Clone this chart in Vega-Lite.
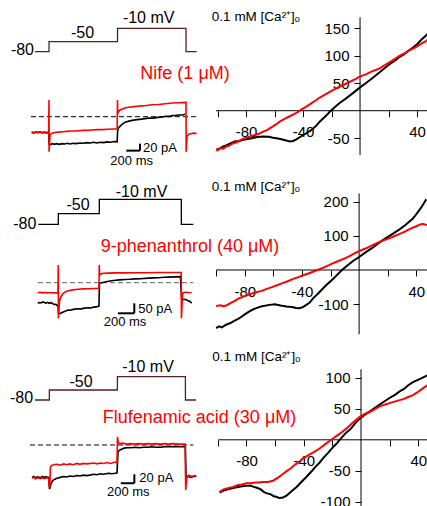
{
"$schema": "https://vega.github.io/schema/vega-lite/v6.json",
"padding": 0,
"background": "white",
"bounds": "flush",
"align": "each",
"spacing": 0,
"columns": 2,
"config": {
  "view": {"stroke": null},
  "axis": {"domain": false, "grid": false, "labelFont": "Liberation Sans", "labelFontSize": 15, "labelColor": "black", "tickColor": "black", "tickSize": 6, "tickWidth": 1, "labelFlush": false, "labelOverlap": false, "labelBound": false},
  "text": {"font": "Liberation Sans"}
},
"datasets": {
  "p1": [{"t":-204,"v":-80},{"t":0,"v":-80},{"t":1,"v":-50},{"t":1000,"v":-50},{"t":1001,"v":-10},{"t":2000,"v":-10},{"t":2001,"v":-80},{"t":2156,"v":-80}],
  "p2": [{"t":-244,"v":-80},{"t":0,"v":-80},{"t":1,"v":-50},{"t":500,"v":-50},{"t":501,"v":-10},{"t":1500,"v":-10},{"t":1501,"v":-80},{"t":1647,"v":-80}],
  "p3": [{"t":-210,"v":-80},{"t":0,"v":-80},{"t":1,"v":-50},{"t":1000,"v":-50},{"t":1001,"v":-10},{"t":2000,"v":-10},{"t":2001,"v":-80},{"t":2157,"v":-80}],
  "c1c": [{"t":-253,"i":-44},{"t":-220,"i":-46},{"t":-190,"i":-43},{"t":-160,"i":-45},{"t":-130,"i":-43},{"t":-100,"i":-46},{"t":-70,"i":-44},{"t":-40,"i":-45},{"t":-5,"i":-44},{"t":2,"i":-78},{"t":20,"i":-80},{"t":50,"i":-77},{"t":80,"i":-79},{"t":110,"i":-77},{"t":150,"i":-79},{"t":190,"i":-77},{"t":230,"i":-78},{"t":270,"i":-76},{"t":310,"i":-78},{"t":350,"i":-76},{"t":400,"i":-77},{"t":450,"i":-75},{"t":500,"i":-76},{"t":550,"i":-74},{"t":600,"i":-75},{"t":650,"i":-73},{"t":700,"i":-75},{"t":750,"i":-73},{"t":800,"i":-74},{"t":850,"i":-72},{"t":900,"i":-73},{"t":950,"i":-71},{"t":995,"i":-72},{"t":1002,"i":-40},{"t":1015,"i":-32},{"t":1040,"i":-27},{"t":1070,"i":-21},{"t":1110,"i":-16},{"t":1180,"i":-12},{"t":1256,"i":-9},{"t":1350,"i":-7},{"t":1450,"i":-4},{"t":1520,"i":-4},{"t":1591,"i":-2},{"t":1650,"i":-1},{"t":1700,"i":1},{"t":1760,"i":1},{"t":1800,"i":3},{"t":1860,"i":4},{"t":1900,"i":5},{"t":1950,"i":5},{"t":1986,"i":7}],
  "c1d": [{"t":-253,"i":-45},{"t":-220,"i":-47},{"t":-190,"i":-44},{"t":-160,"i":-46},{"t":-130,"i":-44},{"t":-100,"i":-46},{"t":-70,"i":-45},{"t":-40,"i":-47},{"t":-5,"i":-45},{"t":0,"i":48},{"t":2,"i":-100},{"t":15,"i":-52},{"t":40,"i":-48},{"t":80,"i":-45},{"t":136,"i":-44},{"t":200,"i":-43},{"t":260,"i":-42},{"t":320,"i":-41},{"t":380,"i":-41},{"t":440,"i":-40},{"t":500,"i":-39},{"t":560,"i":-39},{"t":623,"i":-38},{"t":700,"i":-37},{"t":780,"i":-37},{"t":860,"i":-36},{"t":930,"i":-35},{"t":995,"i":-35},{"t":1000,"i":48},{"t":1003,"i":8},{"t":1015,"i":15},{"t":1037,"i":19},{"t":1070,"i":22},{"t":1110,"i":25},{"t":1160,"i":27},{"t":1220,"i":28},{"t":1290,"i":30},{"t":1353,"i":31},{"t":1420,"i":32},{"t":1500,"i":34},{"t":1596,"i":35},{"t":1700,"i":37},{"t":1800,"i":39},{"t":1900,"i":40},{"t":1995,"i":41},{"t":2000,"i":41},{"t":2002,"i":-100},{"t":2015,"i":-56},{"t":2040,"i":-50},{"t":2080,"i":-48},{"t":2120,"i":-47},{"t":2156,"i":-48}],
  "c2c": [{"t":-251,"i":-103},{"t":-230,"i":-99},{"t":-210,"i":-101},{"t":-190,"i":-96},{"t":-170,"i":-99},{"t":-150,"i":-102},{"t":-130,"i":-98},{"t":-110,"i":-103},{"t":-90,"i":-100},{"t":-70,"i":-104},{"t":-50,"i":-109},{"t":-30,"i":-108},{"t":-10,"i":-115},{"t":-3,"i":-116},{"t":2,"i":-153},{"t":20,"i":-155},{"t":40,"i":-150},{"t":61,"i":-146},{"t":90,"i":-142},{"t":122,"i":-137},{"t":160,"i":-136},{"t":200,"i":-132},{"t":244,"i":-130},{"t":280,"i":-131},{"t":320,"i":-127},{"t":366,"i":-125},{"t":400,"i":-126},{"t":430,"i":-122},{"t":460,"i":-121},{"t":496,"i":-117},{"t":502,"i":-3},{"t":529,"i":0},{"t":580,"i":5},{"t":651,"i":10},{"t":700,"i":12},{"t":750,"i":14},{"t":814,"i":16},{"t":870,"i":17},{"t":936,"i":19},{"t":1000,"i":20},{"t":1100,"i":23},{"t":1160,"i":24},{"t":1220,"i":25},{"t":1290,"i":27},{"t":1350,"i":28},{"t":1420,"i":29},{"t":1490,"i":30},{"t":1505,"i":-86},{"t":1525,"i":-83},{"t":1550,"i":-84},{"t":1586,"i":-90},{"t":1610,"i":-95},{"t":1627,"i":-103}],
  "c2d": [{"t":-251,"i":-50},{"t":-220,"i":-48},{"t":-190,"i":-51},{"t":-160,"i":-49},{"t":-130,"i":-51},{"t":-100,"i":-49},{"t":-70,"i":-50},{"t":-40,"i":-51},{"t":-5,"i":-50},{"t":0,"i":88},{"t":2,"i":-178},{"t":15,"i":-90},{"t":33,"i":-70},{"t":61,"i":-53},{"t":90,"i":-45},{"t":122,"i":-40},{"t":180,"i":-36},{"t":244,"i":-33},{"t":300,"i":-31},{"t":366,"i":-30},{"t":430,"i":-29},{"t":496,"i":-28},{"t":500,"i":88},{"t":503,"i":38},{"t":529,"i":46},{"t":600,"i":48},{"t":700,"i":49},{"t":814,"i":49},{"t":936,"i":50},{"t":1100,"i":50},{"t":1220,"i":51},{"t":1350,"i":51},{"t":1496,"i":51},{"t":1500,"i":51},{"t":1502,"i":-178},{"t":1515,"i":-62},{"t":1525,"i":-50},{"t":1560,"i":-48},{"t":1586,"i":-49},{"t":1627,"i":-50}],
  "c3c": [{"t":-254,"i":-72},{"t":-230,"i":-70},{"t":-200,"i":-73},{"t":-170,"i":-71},{"t":-132,"i":-73},{"t":-100,"i":-70},{"t":-80,"i":-72},{"t":-50,"i":-71},{"t":-10,"i":-72},{"t":3,"i":-98},{"t":20,"i":-88},{"t":45,"i":-80},{"t":80,"i":-76},{"t":113,"i":-74},{"t":160,"i":-72},{"t":211,"i":-70},{"t":260,"i":-71},{"t":300,"i":-69},{"t":350,"i":-70},{"t":407,"i":-68},{"t":450,"i":-69},{"t":500,"i":-67},{"t":560,"i":-68},{"t":652,"i":-65},{"t":700,"i":-66},{"t":750,"i":-64},{"t":800,"i":-65},{"t":870,"i":-63},{"t":920,"i":-64},{"t":971,"i":-63},{"t":995,"i":-62},{"t":1010,"i":-15},{"t":1040,"i":-11},{"t":1069,"i":-9},{"t":1100,"i":-7},{"t":1142,"i":-6},{"t":1200,"i":-6},{"t":1250,"i":-5},{"t":1320,"i":-6},{"t":1387,"i":-5},{"t":1450,"i":-5},{"t":1500,"i":-4},{"t":1560,"i":-5},{"t":1632,"i":-5},{"t":1700,"i":-4},{"t":1800,"i":-4},{"t":1900,"i":-4},{"t":2000,"i":-4},{"t":2010,"i":-70},{"t":2049,"i":-70},{"t":2080,"i":-72},{"t":2100,"i":-71},{"t":2130,"i":-69},{"t":2160,"i":-70}],
  "c3d": [{"t":-254,"i":-74},{"t":-230,"i":-72},{"t":-200,"i":-75},{"t":-170,"i":-73},{"t":-132,"i":-75},{"t":-100,"i":-73},{"t":-70,"i":-75},{"t":-40,"i":-73},{"t":-10,"i":-74},{"t":0,"i":-92},{"t":8,"i":-93},{"t":15,"i":-50},{"t":25,"i":-47},{"t":60,"i":-44},{"t":113,"i":-43},{"t":160,"i":-45},{"t":211,"i":-42},{"t":260,"i":-44},{"t":300,"i":-42},{"t":350,"i":-44},{"t":407,"i":-41},{"t":450,"i":-43},{"t":500,"i":-41},{"t":560,"i":-42},{"t":652,"i":-40},{"t":700,"i":-42},{"t":750,"i":-40},{"t":800,"i":-41},{"t":850,"i":-39},{"t":900,"i":-41},{"t":971,"i":-38},{"t":995,"i":-39},{"t":1002,"i":18},{"t":1015,"i":5},{"t":1040,"i":3},{"t":1069,"i":4},{"t":1142,"i":2},{"t":1200,"i":3},{"t":1250,"i":2},{"t":1320,"i":3},{"t":1387,"i":2},{"t":1450,"i":3},{"t":1500,"i":2},{"t":1560,"i":3},{"t":1632,"i":2},{"t":1700,"i":3},{"t":1750,"i":2},{"t":1820,"i":3},{"t":1900,"i":2},{"t":1995,"i":2},{"t":2005,"i":-100},{"t":2020,"i":-75},{"t":2049,"i":-67},{"t":2100,"i":-70},{"t":2130,"i":-68},{"t":2160,"i":-69}],
  "iv1c": [{"v":-100.8,"i":-71},{"v":-98,"i":-68},{"v":-96,"i":-65},{"v":-94,"i":-63},{"v":-91.4,"i":-60},{"v":-88,"i":-56},{"v":-85,"i":-55},{"v":-82,"i":-53},{"v":-79.8,"i":-52},{"v":-76,"i":-50},{"v":-72,"i":-48},{"v":-68,"i":-47},{"v":-64,"i":-47.5},{"v":-61,"i":-49},{"v":-58.7,"i":-50},{"v":-55,"i":-52},{"v":-52,"i":-54},{"v":-49.3,"i":-56},{"v":-47,"i":-55},{"v":-44.7,"i":-52},{"v":-41,"i":-46},{"v":-37.7,"i":-41},{"v":-34,"i":-35},{"v":-31,"i":-28},{"v":-28.3,"i":-20},{"v":-25,"i":-12},{"v":-23,"i":-7},{"v":-21.3,"i":-2},{"v":-18,"i":6},{"v":-14.3,"i":14},{"v":-10,"i":22},{"v":-5,"i":32},{"v":-0.2,"i":42},{"v":4,"i":50},{"v":9,"i":60},{"v":13.8,"i":70},{"v":18,"i":79},{"v":22,"i":87},{"v":25,"i":92},{"v":27.9,"i":98},{"v":31,"i":103},{"v":34,"i":109},{"v":37.2,"i":115},{"v":40,"i":121},{"v":43,"i":129},{"v":46.5,"i":137},{"v":47.5,"i":140}],
  "iv1d": [{"v":-100.8,"i":-73},{"v":-98,"i":-68},{"v":-96,"i":-69},{"v":-94,"i":-65},{"v":-92,"i":-64},{"v":-89,"i":-59},{"v":-86,"i":-57},{"v":-83,"i":-52},{"v":-80,"i":-49},{"v":-77,"i":-47},{"v":-74,"i":-44},{"v":-71,"i":-42},{"v":-68,"i":-38},{"v":-65,"i":-35},{"v":-62,"i":-30},{"v":-59,"i":-25},{"v":-56.4,"i":-20},{"v":-53,"i":-15},{"v":-50,"i":-11},{"v":-47,"i":-7},{"v":-44,"i":-3},{"v":-41.3,"i":2},{"v":-38,"i":7},{"v":-35,"i":12},{"v":-31,"i":19},{"v":-28.3,"i":24},{"v":-24,"i":30},{"v":-20,"i":36},{"v":-17,"i":40},{"v":-14.3,"i":44},{"v":-10,"i":49},{"v":-6,"i":54},{"v":-3,"i":58},{"v":-0.2,"i":62},{"v":4,"i":66},{"v":8,"i":71},{"v":11,"i":74},{"v":13.8,"i":77},{"v":18,"i":84},{"v":22,"i":90},{"v":25,"i":95},{"v":27.9,"i":100},{"v":31,"i":104},{"v":34,"i":109},{"v":37.2,"i":113},{"v":40,"i":117},{"v":43,"i":122},{"v":46.5,"i":127},{"v":47.5,"i":129}],
  "iv2c": [{"v":-100,"i":-170},{"v":-98,"i":-165},{"v":-96,"i":-168},{"v":-93,"i":-160},{"v":-90,"i":-155},{"v":-87,"i":-148},{"v":-83.7,"i":-141},{"v":-80,"i":-130},{"v":-77,"i":-122},{"v":-74.2,"i":-115},{"v":-71,"i":-110},{"v":-68,"i":-106},{"v":-65,"i":-104},{"v":-62.5,"i":-102},{"v":-59,"i":-100},{"v":-55,"i":-104},{"v":-50.9,"i":-107},{"v":-47,"i":-108},{"v":-44,"i":-111},{"v":-41.5,"i":-112},{"v":-39,"i":-108},{"v":-36.9,"i":-102},{"v":-34.5,"i":-95},{"v":-32.2,"i":-83},{"v":-29,"i":-70},{"v":-26,"i":-57},{"v":-22.9,"i":-44},{"v":-19,"i":-29},{"v":-16,"i":-17},{"v":-12,"i":0},{"v":-8,"i":14},{"v":-4,"i":27},{"v":0,"i":38},{"v":5,"i":53},{"v":10,"i":67},{"v":14,"i":80},{"v":19,"i":94},{"v":24,"i":107},{"v":28,"i":118},{"v":32,"i":130},{"v":35,"i":141},{"v":37.5,"i":150},{"v":40,"i":163},{"v":43,"i":180},{"v":45,"i":193},{"v":47,"i":207}],
  "iv2d": [{"v":-100,"i":-105},{"v":-97,"i":-103},{"v":-95,"i":-106},{"v":-93,"i":-104},{"v":-90,"i":-97},{"v":-87,"i":-90},{"v":-84,"i":-83},{"v":-80,"i":-76},{"v":-76,"i":-70},{"v":-72,"i":-65},{"v":-68,"i":-61},{"v":-65,"i":-56},{"v":-61,"i":-50},{"v":-57,"i":-44},{"v":-54,"i":-39},{"v":-50,"i":-33},{"v":-46,"i":-26},{"v":-42,"i":-20},{"v":-38,"i":-14},{"v":-34,"i":-8},{"v":-31,"i":-3},{"v":-29,"i":0},{"v":-25,"i":7},{"v":-21,"i":14},{"v":-17,"i":22},{"v":-14,"i":27},{"v":-10,"i":34},{"v":-6,"i":42},{"v":-3,"i":49},{"v":0,"i":55},{"v":4,"i":62},{"v":8,"i":70},{"v":12,"i":78},{"v":16,"i":85},{"v":20,"i":91},{"v":24,"i":98},{"v":28,"i":105},{"v":32,"i":112},{"v":36,"i":121},{"v":40,"i":128},{"v":42,"i":132},{"v":44.5,"i":135},{"v":46.9,"i":132},{"v":47.5,"i":131}],
  "iv3c": [{"v":-98.8,"i":-85},{"v":-96,"i":-82},{"v":-93,"i":-80},{"v":-89.4,"i":-78},{"v":-86,"i":-76},{"v":-83,"i":-75},{"v":-80.1,"i":-74},{"v":-77,"i":-74},{"v":-75,"i":-76},{"v":-73.2,"i":-77},{"v":-70,"i":-80},{"v":-68,"i":-84},{"v":-66.2,"i":-86},{"v":-63,"i":-88},{"v":-61,"i":-91},{"v":-59.2,"i":-92},{"v":-57,"i":-94},{"v":-54.5,"i":-93},{"v":-52,"i":-90},{"v":-49.5,"i":-85},{"v":-47.5,"i":-81},{"v":-45,"i":-76},{"v":-42,"i":-69},{"v":-38.2,"i":-60},{"v":-35,"i":-52},{"v":-32,"i":-44},{"v":-29,"i":-37},{"v":-26.6,"i":-30},{"v":-23,"i":-21},{"v":-20,"i":-13},{"v":-17,"i":-6},{"v":-14.9,"i":0},{"v":-11,"i":10},{"v":-7,"i":18},{"v":-4,"i":27},{"v":-0.9,"i":34},{"v":3,"i":41},{"v":7,"i":47},{"v":10,"i":52},{"v":13.1,"i":57},{"v":17,"i":63},{"v":21,"i":69},{"v":24,"i":73},{"v":27,"i":78},{"v":30,"i":82},{"v":33,"i":88},{"v":36.3,"i":93},{"v":39,"i":96},{"v":42,"i":99},{"v":45.6,"i":103},{"v":46.5,"i":104}],
  "iv3d": [{"v":-98.8,"i":-84},{"v":-96,"i":-80},{"v":-93,"i":-78},{"v":-89.4,"i":-76},{"v":-86,"i":-73},{"v":-83,"i":-72},{"v":-80.1,"i":-70},{"v":-77,"i":-70},{"v":-74,"i":-69},{"v":-71,"i":-69},{"v":-68.5,"i":-68},{"v":-65,"i":-68},{"v":-61.5,"i":-66},{"v":-58,"i":-61},{"v":-55,"i":-56},{"v":-52.2,"i":-51},{"v":-49,"i":-46},{"v":-46,"i":-40},{"v":-43,"i":-35},{"v":-40.5,"i":-30},{"v":-37,"i":-25},{"v":-33,"i":-20},{"v":-28.9,"i":-14},{"v":-25,"i":-7},{"v":-22,"i":-2},{"v":-19.6,"i":2},{"v":-16,"i":8},{"v":-13,"i":13},{"v":-10.3,"i":18},{"v":-7,"i":25},{"v":-4,"i":31},{"v":-0.9,"i":37},{"v":3,"i":42},{"v":7,"i":46},{"v":10,"i":50},{"v":13.1,"i":54},{"v":17,"i":57},{"v":21,"i":60},{"v":24,"i":62},{"v":27,"i":64},{"v":30,"i":66},{"v":33,"i":69},{"v":36.3,"i":72},{"v":39,"i":76},{"v":42,"i":81},{"v":45.6,"i":87},{"v":46.5,"i":88}]
},
"concat": [
  {
    "width": 213, "height": 170,
    "layer": [
      {"layer": [
        {"data": {"name": "p1"}, "mark": {"type": "line", "color": "#5a1e1e", "strokeWidth": 1.3},
         "encoding": {"x": {"field": "t", "type": "quantitative", "scale": {"domain": [-715, 2394], "nice": false, "zero": false}, "axis": null},
                      "y": {"field": "v", "type": "quantitative", "scale": {"domain": [-434.2, 74.8], "nice": false, "zero": false}, "axis": null}}},
        {"data": {"values": [{}]}, "mark": {"type": "text", "align": "right", "baseline": "middle", "dx": -1, "dy": -2, "fontSize": 16, "color": "black"},
         "encoding": {"x": {"datum": -204, "type": "quantitative", "scale": {"domain": [-715, 2394], "nice": false, "zero": false}, "axis": null},
                      "y": {"datum": -80, "type": "quantitative", "scale": {"domain": [-434.2, 74.8], "nice": false, "zero": false}, "axis": null},
                      "text": {"value": "-80"}}},
        {"data": {"values": [{}]}, "mark": {"type": "text", "align": "center", "baseline": "middle", "dy": -8.5, "fontSize": 16, "color": "black"},
         "encoding": {"x": {"datum": 490, "type": "quantitative", "scale": {"domain": [-715, 2394], "nice": false, "zero": false}, "axis": null},
                      "y": {"datum": -50, "type": "quantitative", "scale": {"domain": [-434.2, 74.8], "nice": false, "zero": false}, "axis": null},
                      "text": {"value": "-50"}}},
        {"data": {"values": [{}]}, "mark": {"type": "text", "align": "center", "baseline": "middle", "dy": -10, "fontSize": 16, "color": "black"},
         "encoding": {"x": {"datum": 1455, "type": "quantitative", "scale": {"domain": [-715, 2394], "nice": false, "zero": false}, "axis": null},
                      "y": {"datum": -10, "type": "quantitative", "scale": {"domain": [-434.2, 74.8], "nice": false, "zero": false}, "axis": null},
                      "text": {"value": "-10 mV"}}}
      ]},
      {"layer": [
        {"data": {"values": [{}]}, "mark": {"type": "rule", "color": "black", "strokeWidth": 1, "strokeDash": [5, 3]},
         "encoding": {"x": {"datum": -263, "type": "quantitative", "scale": {"domain": [-715, 2394], "nice": false, "zero": false}, "axis": null}, "x2": {"datum": 2146},
                      "y": {"datum": 0, "type": "quantitative", "scale": {"domain": [-152.3, 333.4], "nice": false, "zero": false}, "axis": null}}},
        {"data": {"name": "c1c"}, "mark": {"type": "line", "color": "black", "strokeWidth": 1.6},
         "encoding": {"x": {"field": "t", "type": "quantitative", "scale": {"domain": [-715, 2394], "nice": false, "zero": false}, "axis": null},
                      "y": {"field": "i", "type": "quantitative", "scale": {"domain": [-152.3, 333.4], "nice": false, "zero": false}, "axis": null}}},
        {"data": {"name": "c1d"}, "mark": {"type": "line", "color": "#ff0000", "strokeWidth": 1.6},
         "encoding": {"x": {"field": "t", "type": "quantitative", "scale": {"domain": [-715, 2394], "nice": false, "zero": false}, "axis": null},
                      "y": {"field": "i", "type": "quantitative", "scale": {"domain": [-152.3, 333.4], "nice": false, "zero": false}, "axis": null}}},
        {"data": {"values": [{}]}, "mark": {"type": "rule", "color": "black", "strokeWidth": 2},
         "encoding": {"x": {"datum": 1129, "type": "quantitative", "scale": {"domain": [-715, 2394], "nice": false, "zero": false}, "axis": null}, "x2": {"datum": 1329},
                      "y": {"datum": -97, "type": "quantitative", "scale": {"domain": [-152.3, 333.4], "nice": false, "zero": false}, "axis": null}}},
        {"data": {"values": [{}]}, "mark": {"type": "rule", "color": "black", "strokeWidth": 2},
         "encoding": {"x": {"datum": 1329, "type": "quantitative", "scale": {"domain": [-715, 2394], "nice": false, "zero": false}, "axis": null},
                      "y": {"datum": -97, "type": "quantitative", "scale": {"domain": [-152.3, 333.4], "nice": false, "zero": false}, "axis": null}, "y2": {"datum": -77}}},
        {"data": {"values": [{}]}, "mark": {"type": "text", "align": "left", "baseline": "middle", "dx": 3, "fontSize": 13, "color": "black"},
         "encoding": {"x": {"datum": 1329, "type": "quantitative", "scale": {"domain": [-715, 2394], "nice": false, "zero": false}, "axis": null},
                      "y": {"datum": -89, "type": "quantitative", "scale": {"domain": [-152.3, 333.4], "nice": false, "zero": false}, "axis": null},
                      "text": {"value": "20 pA"}}},
        {"data": {"values": [{}]}, "mark": {"type": "text", "align": "center", "baseline": "middle", "fontSize": 13, "color": "black"},
         "encoding": {"x": {"datum": 1207, "type": "quantitative", "scale": {"domain": [-715, 2394], "nice": false, "zero": false}, "axis": null},
                      "y": {"datum": -126.6, "type": "quantitative", "scale": {"domain": [-152.3, 333.4], "nice": false, "zero": false}, "axis": null},
                      "text": {"value": "200 ms"}}},
        {"data": {"values": [{}]}, "mark": {"type": "text", "align": "center", "baseline": "middle", "fontSize": 18, "color": "#ff0000"},
         "encoding": {"x": {"datum": 1986, "type": "quantitative", "scale": {"domain": [-715, 2394], "nice": false, "zero": false}, "axis": null},
                      "y": {"datum": 122, "type": "quantitative", "scale": {"domain": [-152.3, 333.4], "nice": false, "zero": false}, "axis": null},
                      "text": {"value": "Nife (1 μM)"}}}
      ]}
    ],
    "resolve": {"scale": {"y": "independent"}}
  },
  {
    "width": 214, "height": 170,
    "layer": [
      {"data": {"values": [{}]}, "mark": {"type": "rule", "color": "black", "strokeWidth": 1},
       "encoding": {"x": {"datum": -101.1, "type": "quantitative", "scale": {"domain": [-103.2, 47.0], "nice": false, "zero": false},
                          "axis": {"orient": "bottom", "offset": -59.3, "values": [-100, -80, -60, -40, -20, 20, 40], "labelExpr": "indexof([-80,-40,40], datum.value) >= 0 ? toString(datum.value) : ''", "labelPadding": 8, "title": null}},
                    "x2": {"datum": 47.0},
                    "y": {"datum": 0, "type": "quantitative", "scale": {"domain": [-107.8, 201.3], "nice": false, "zero": false},
                          "axis": {"orient": "left", "offset": -147, "values": [-50, 50, 100, 150], "labelExpr": "toString(datum.value)", "labelPadding": 5, "title": null}}}},
      {"data": {"values": [{}]}, "mark": {"type": "rule", "color": "black", "strokeWidth": 1},
       "encoding": {"x": {"datum": 0, "type": "quantitative", "scale": {"domain": [-103.2, 47.0], "nice": false, "zero": false},
                          "axis": {"orient": "bottom", "offset": -59.3, "values": [-100, -80, -60, -40, -20, 20, 40], "labelExpr": "indexof([-80,-40,40], datum.value) >= 0 ? toString(datum.value) : ''", "labelPadding": 8, "title": null}},
                    "y": {"datum": -80.5, "type": "quantitative", "scale": {"domain": [-107.8, 201.3], "nice": false, "zero": false},
                          "axis": {"orient": "left", "offset": -147, "values": [-50, 50, 100, 150], "labelExpr": "toString(datum.value)", "labelPadding": 5, "title": null}},
                    "y2": {"datum": 170}}},
      {"data": {"name": "iv1c"}, "mark": {"type": "line", "color": "black", "strokeWidth": 2},
       "encoding": {"x": {"field": "v", "type": "quantitative", "scale": {"domain": [-103.2, 47.0], "nice": false, "zero": false},
                          "axis": {"orient": "bottom", "offset": -59.3, "values": [-100, -80, -60, -40, -20, 20, 40], "labelExpr": "indexof([-80,-40,40], datum.value) >= 0 ? toString(datum.value) : ''", "labelPadding": 8, "title": null}},
                    "y": {"field": "i", "type": "quantitative", "scale": {"domain": [-107.8, 201.3], "nice": false, "zero": false},
                          "axis": {"orient": "left", "offset": -147, "values": [-50, 50, 100, 150], "labelExpr": "toString(datum.value)", "labelPadding": 5, "title": null}}}},
      {"data": {"name": "iv1d"}, "mark": {"type": "line", "color": "#ff0000", "strokeWidth": 2},
       "encoding": {"x": {"field": "v", "type": "quantitative", "scale": {"domain": [-103.2, 47.0], "nice": false, "zero": false},
                          "axis": {"orient": "bottom", "offset": -59.3, "values": [-100, -80, -60, -40, -20, 20, 40], "labelExpr": "indexof([-80,-40,40], datum.value) >= 0 ? toString(datum.value) : ''", "labelPadding": 8, "title": null}},
                    "y": {"field": "i", "type": "quantitative", "scale": {"domain": [-107.8, 201.3], "nice": false, "zero": false},
                          "axis": {"orient": "left", "offset": -147, "values": [-50, 50, 100, 150], "labelExpr": "toString(datum.value)", "labelPadding": 5, "title": null}}}},
      {"data": {"values": [{}]}, "mark": {"type": "text", "align": "left", "baseline": "middle", "fontSize": 13.5, "color": "black"},
       "encoding": {"x": {"datum": -104, "type": "quantitative", "scale": {"domain": [-103.2, 47.0], "nice": false, "zero": false},
                          "axis": {"orient": "bottom", "offset": -59.3, "values": [-100, -80, -60, -40, -20, 20, 40], "labelExpr": "indexof([-80,-40,40], datum.value) >= 0 ? toString(datum.value) : ''", "labelPadding": 8, "title": null}},
                    "y": {"datum": 170.4, "type": "quantitative", "scale": {"domain": [-107.8, 201.3], "nice": false, "zero": false},
                          "axis": {"orient": "left", "offset": -147, "values": [-50, 50, 100, 150], "labelExpr": "toString(datum.value)", "labelPadding": 5, "title": null}},
                    "text": {"value": "0.1 mM [Ca²⁺]ₒ"}}}
    ]
  },
  {
    "width": 213, "height": 170,
    "layer": [
      {"layer": [
        {"data": {"name": "p2"}, "mark": {"type": "line", "color": "black", "strokeWidth": 1.3},
         "encoding": {"x": {"field": "t", "type": "quantitative", "scale": {"domain": [-711, 1887], "nice": false, "zero": false}, "axis": null},
                      "y": {"field": "v", "type": "quantitative", "scale": {"domain": [-404.1, 72.1], "nice": false, "zero": false}, "axis": null}}},
        {"data": {"values": [{}]}, "mark": {"type": "text", "align": "right", "baseline": "middle", "dx": -2, "dy": 0, "fontSize": 16, "color": "black"},
         "encoding": {"x": {"datum": -244, "type": "quantitative", "scale": {"domain": [-711, 1887], "nice": false, "zero": false}, "axis": null},
                      "y": {"datum": -80, "type": "quantitative", "scale": {"domain": [-404.1, 72.1], "nice": false, "zero": false}, "axis": null},
                      "text": {"value": "-80"}}},
        {"data": {"values": [{}]}, "mark": {"type": "text", "align": "center", "baseline": "middle", "dy": -9, "fontSize": 16, "color": "black"},
         "encoding": {"x": {"datum": 240, "type": "quantitative", "scale": {"domain": [-711, 1887], "nice": false, "zero": false}, "axis": null},
                      "y": {"datum": -50, "type": "quantitative", "scale": {"domain": [-404.1, 72.1], "nice": false, "zero": false}, "axis": null},
                      "text": {"value": "-50"}}},
        {"data": {"values": [{}]}, "mark": {"type": "text", "align": "center", "baseline": "middle", "dy": -7.5, "fontSize": 16, "color": "black"},
         "encoding": {"x": {"datum": 1015, "type": "quantitative", "scale": {"domain": [-711, 1887], "nice": false, "zero": false}, "axis": null},
                      "y": {"datum": -10, "type": "quantitative", "scale": {"domain": [-404.1, 72.1], "nice": false, "zero": false}, "axis": null},
                      "text": {"value": "-10 mV"}}}
      ]},
      {"layer": [
        {"data": {"values": [{}]}, "mark": {"type": "rule", "color": "#808080", "strokeWidth": 1.3, "strokeDash": [5, 3]},
         "encoding": {"x": {"datum": -248, "type": "quantitative", "scale": {"domain": [-711, 1887], "nice": false, "zero": false}, "axis": null}, "x2": {"datum": 1647},
                      "y": {"datum": 0, "type": "quantitative", "scale": {"domain": [-286.5, 563.5], "nice": false, "zero": false}, "axis": null}}},
        {"data": {"name": "c2c"}, "mark": {"type": "line", "color": "black", "strokeWidth": 1.6},
         "encoding": {"x": {"field": "t", "type": "quantitative", "scale": {"domain": [-711, 1887], "nice": false, "zero": false}, "axis": null},
                      "y": {"field": "i", "type": "quantitative", "scale": {"domain": [-286.5, 563.5], "nice": false, "zero": false}, "axis": null}}},
        {"data": {"name": "c2d"}, "mark": {"type": "line", "color": "#ff0000", "strokeWidth": 1.6},
         "encoding": {"x": {"field": "t", "type": "quantitative", "scale": {"domain": [-711, 1887], "nice": false, "zero": false}, "axis": null},
                      "y": {"field": "i", "type": "quantitative", "scale": {"domain": [-286.5, 563.5], "nice": false, "zero": false}, "axis": null}}},
        {"data": {"values": [{}]}, "mark": {"type": "rule", "color": "black", "strokeWidth": 2},
         "encoding": {"x": {"datum": 727, "type": "quantitative", "scale": {"domain": [-711, 1887], "nice": false, "zero": false}, "axis": null}, "x2": {"datum": 927},
                      "y": {"datum": -153, "type": "quantitative", "scale": {"domain": [-286.5, 563.5], "nice": false, "zero": false}, "axis": null}}},
        {"data": {"values": [{}]}, "mark": {"type": "rule", "color": "black", "strokeWidth": 2},
         "encoding": {"x": {"datum": 927, "type": "quantitative", "scale": {"domain": [-711, 1887], "nice": false, "zero": false}, "axis": null},
                      "y": {"datum": -153, "type": "quantitative", "scale": {"domain": [-286.5, 563.5], "nice": false, "zero": false}, "axis": null}, "y2": {"datum": -103}}},
        {"data": {"values": [{}]}, "mark": {"type": "text", "align": "left", "baseline": "middle", "dx": 4, "fontSize": 13, "color": "black"},
         "encoding": {"x": {"datum": 927, "type": "quantitative", "scale": {"domain": [-711, 1887], "nice": false, "zero": false}, "axis": null},
                      "y": {"datum": -133, "type": "quantitative", "scale": {"domain": [-286.5, 563.5], "nice": false, "zero": false}, "axis": null},
                      "text": {"value": "50 pA"}}},
        {"data": {"values": [{}]}, "mark": {"type": "text", "align": "center", "baseline": "middle", "fontSize": 13, "color": "black"},
         "encoding": {"x": {"datum": 814, "type": "quantitative", "scale": {"domain": [-711, 1887], "nice": false, "zero": false}, "axis": null},
                      "y": {"datum": -195, "type": "quantitative", "scale": {"domain": [-286.5, 563.5], "nice": false, "zero": false}, "axis": null},
                      "text": {"value": "200 ms"}}},
        {"data": {"values": [{}]}, "mark": {"type": "text", "align": "center", "baseline": "middle", "fontSize": 18, "color": "#ff0000"},
         "encoding": {"x": {"datum": 1607, "type": "quantitative", "scale": {"domain": [-711, 1887], "nice": false, "zero": false}, "axis": null},
                      "y": {"datum": 178.5, "type": "quantitative", "scale": {"domain": [-286.5, 563.5], "nice": false, "zero": false}, "axis": null},
                      "text": {"value": "9-phenanthrol (40 μM)"}}}
      ]}
    ],
    "resolve": {"scale": {"y": "independent"}}
  },
  {
    "width": 214, "height": 170,
    "layer": [
      {"data": {"values": [{}]}, "mark": {"type": "rule", "color": "black", "strokeWidth": 1},
       "encoding": {"x": {"datum": -100.1, "type": "quantitative", "scale": {"domain": [-102.2, 47.5], "nice": false, "zero": false},
                          "axis": {"orient": "bottom", "offset": -70, "values": [-100, -80, -60, -40, -20, 20, 40], "labelExpr": "indexof([-80,-40,40], datum.value) >= 0 ? toString(datum.value) : ''", "labelPadding": 8, "title": null}},
                    "x2": {"datum": 47.5},
                    "y": {"datum": 0, "type": "quantitative", "scale": {"domain": [-204.7, 292.4], "nice": false, "zero": false},
                          "axis": {"orient": "left", "offset": -146.1, "values": [-100, 100, 200], "labelExpr": "toString(datum.value)", "labelPadding": 5, "title": null}}}},
      {"data": {"values": [{}]}, "mark": {"type": "rule", "color": "black", "strokeWidth": 1},
       "encoding": {"x": {"datum": 0, "type": "quantitative", "scale": {"domain": [-102.2, 47.5], "nice": false, "zero": false},
                          "axis": {"orient": "bottom", "offset": -70, "values": [-100, -80, -60, -40, -20, 20, 40], "labelExpr": "indexof([-80,-40,40], datum.value) >= 0 ? toString(datum.value) : ''", "labelPadding": 8, "title": null}},
                    "y": {"datum": -188, "type": "quantitative", "scale": {"domain": [-204.7, 292.4], "nice": false, "zero": false},
                          "axis": {"orient": "left", "offset": -146.1, "values": [-100, 100, 200], "labelExpr": "toString(datum.value)", "labelPadding": 5, "title": null}},
                    "y2": {"datum": 224}}},
      {"data": {"name": "iv2c"}, "mark": {"type": "line", "color": "black", "strokeWidth": 2},
       "encoding": {"x": {"field": "v", "type": "quantitative", "scale": {"domain": [-102.2, 47.5], "nice": false, "zero": false},
                          "axis": {"orient": "bottom", "offset": -70, "values": [-100, -80, -60, -40, -20, 20, 40], "labelExpr": "indexof([-80,-40,40], datum.value) >= 0 ? toString(datum.value) : ''", "labelPadding": 8, "title": null}},
                    "y": {"field": "i", "type": "quantitative", "scale": {"domain": [-204.7, 292.4], "nice": false, "zero": false},
                          "axis": {"orient": "left", "offset": -146.1, "values": [-100, 100, 200], "labelExpr": "toString(datum.value)", "labelPadding": 5, "title": null}}}},
      {"data": {"name": "iv2d"}, "mark": {"type": "line", "color": "#ff0000", "strokeWidth": 2},
       "encoding": {"x": {"field": "v", "type": "quantitative", "scale": {"domain": [-102.2, 47.5], "nice": false, "zero": false},
                          "axis": {"orient": "bottom", "offset": -70, "values": [-100, -80, -60, -40, -20, 20, 40], "labelExpr": "indexof([-80,-40,40], datum.value) >= 0 ? toString(datum.value) : ''", "labelPadding": 8, "title": null}},
                    "y": {"field": "i", "type": "quantitative", "scale": {"domain": [-204.7, 292.4], "nice": false, "zero": false},
                          "axis": {"orient": "left", "offset": -146.1, "values": [-100, 100, 200], "labelExpr": "toString(datum.value)", "labelPadding": 5, "title": null}}}},
      {"data": {"values": [{}]}, "mark": {"type": "text", "align": "left", "baseline": "middle", "fontSize": 13.5, "color": "black"},
       "encoding": {"x": {"datum": -103, "type": "quantitative", "scale": {"domain": [-102.2, 47.5], "nice": false, "zero": false},
                          "axis": {"orient": "bottom", "offset": -70, "values": [-100, -80, -60, -40, -20, 20, 40], "labelExpr": "indexof([-80,-40,40], datum.value) >= 0 ? toString(datum.value) : ''", "labelPadding": 8, "title": null}},
                    "y": {"datum": 242.7, "type": "quantitative", "scale": {"domain": [-204.7, 292.4], "nice": false, "zero": false},
                          "axis": {"orient": "left", "offset": -146.1, "values": [-100, 100, 200], "labelExpr": "toString(datum.value)", "labelPadding": 5, "title": null}},
                    "text": {"value": "0.1 mM [Ca²⁺]ₒ"}}}
    ]
  },
  {
    "width": 213, "height": 166,
    "layer": [
      {"layer": [
        {"data": {"name": "p3"}, "mark": {"type": "line", "color": "#5a1e1e", "strokeWidth": 1.3},
         "encoding": {"x": {"field": "t", "type": "quantitative", "scale": {"domain": [-725, 2406], "nice": false, "zero": false}, "axis": null},
                      "y": {"field": "v", "type": "quantitative", "scale": {"domain": [-398.3, 100.2], "nice": false, "zero": false}, "axis": null}}},
        {"data": {"values": [{}]}, "mark": {"type": "text", "align": "right", "baseline": "middle", "dx": -2, "dy": -2, "fontSize": 16, "color": "black"},
         "encoding": {"x": {"datum": -210, "type": "quantitative", "scale": {"domain": [-725, 2406], "nice": false, "zero": false}, "axis": null},
                      "y": {"datum": -80, "type": "quantitative", "scale": {"domain": [-398.3, 100.2], "nice": false, "zero": false}, "axis": null},
                      "text": {"value": "-80"}}},
        {"data": {"values": [{}]}, "mark": {"type": "text", "align": "center", "baseline": "middle", "dy": -8.3, "fontSize": 16, "color": "black"},
         "encoding": {"x": {"datum": 466, "type": "quantitative", "scale": {"domain": [-725, 2406], "nice": false, "zero": false}, "axis": null},
                      "y": {"datum": -50, "type": "quantitative", "scale": {"domain": [-398.3, 100.2], "nice": false, "zero": false}, "axis": null},
                      "text": {"value": "-50"}}},
        {"data": {"values": [{}]}, "mark": {"type": "text", "align": "center", "baseline": "middle", "dy": -10, "fontSize": 16, "color": "black"},
         "encoding": {"x": {"datum": 1451, "type": "quantitative", "scale": {"domain": [-725, 2406], "nice": false, "zero": false}, "axis": null},
                      "y": {"datum": -10, "type": "quantitative", "scale": {"domain": [-398.3, 100.2], "nice": false, "zero": false}, "axis": null},
                      "text": {"value": "-10 mV"}}}
      ]},
      {"layer": [
        {"data": {"values": [{}]}, "mark": {"type": "rule", "color": "black", "strokeWidth": 1, "strokeDash": [5, 3]},
         "encoding": {"x": {"datum": -284, "type": "quantitative", "scale": {"domain": [-725, 2406], "nice": false, "zero": false}, "axis": null}, "x2": {"datum": 2117},
                      "y": {"datum": 0, "type": "quantitative", "scale": {"domain": [-135.6, 233.3], "nice": false, "zero": false}, "axis": null}}},
        {"data": {"name": "c3c"}, "mark": {"type": "line", "color": "black", "strokeWidth": 1.6},
         "encoding": {"x": {"field": "t", "type": "quantitative", "scale": {"domain": [-725, 2406], "nice": false, "zero": false}, "axis": null},
                      "y": {"field": "i", "type": "quantitative", "scale": {"domain": [-135.6, 233.3], "nice": false, "zero": false}, "axis": null}}},
        {"data": {"name": "c3d"}, "mark": {"type": "line", "color": "#ff0000", "strokeWidth": 1.6},
         "encoding": {"x": {"field": "t", "type": "quantitative", "scale": {"domain": [-725, 2406], "nice": false, "zero": false}, "axis": null},
                      "y": {"field": "i", "type": "quantitative", "scale": {"domain": [-135.6, 233.3], "nice": false, "zero": false}, "axis": null}}},
        {"data": {"values": [{}]}, "mark": {"type": "rule", "color": "black", "strokeWidth": 2},
         "encoding": {"x": {"datum": 1050, "type": "quantitative", "scale": {"domain": [-725, 2406], "nice": false, "zero": false}, "axis": null}, "x2": {"datum": 1250},
                      "y": {"datum": -85, "type": "quantitative", "scale": {"domain": [-135.6, 233.3], "nice": false, "zero": false}, "axis": null}}},
        {"data": {"values": [{}]}, "mark": {"type": "rule", "color": "black", "strokeWidth": 2},
         "encoding": {"x": {"datum": 1250, "type": "quantitative", "scale": {"domain": [-725, 2406], "nice": false, "zero": false}, "axis": null},
                      "y": {"datum": -85, "type": "quantitative", "scale": {"domain": [-135.6, 233.3], "nice": false, "zero": false}, "axis": null}, "y2": {"datum": -65}}},
        {"data": {"values": [{}]}, "mark": {"type": "text", "align": "left", "baseline": "middle", "dx": 5, "fontSize": 13, "color": "black"},
         "encoding": {"x": {"datum": 1250, "type": "quantitative", "scale": {"domain": [-725, 2406], "nice": false, "zero": false}, "axis": null},
                      "y": {"datum": -74, "type": "quantitative", "scale": {"domain": [-135.6, 233.3], "nice": false, "zero": false}, "axis": null},
                      "text": {"value": "20 pA"}}},
        {"data": {"values": [{}]}, "mark": {"type": "text", "align": "center", "baseline": "middle", "fontSize": 13, "color": "black"},
         "encoding": {"x": {"datum": 1161, "type": "quantitative", "scale": {"domain": [-725, 2406], "nice": false, "zero": false}, "axis": null},
                      "y": {"datum": -103.7, "type": "quantitative", "scale": {"domain": [-135.6, 233.3], "nice": false, "zero": false}, "axis": null},
                      "text": {"value": "200 ms"}}},
        {"data": {"values": [{}]}, "mark": {"type": "text", "align": "center", "baseline": "middle", "fontSize": 18, "color": "#ff0000"},
         "encoding": {"x": {"datum": 2208, "type": "quantitative", "scale": {"domain": [-725, 2406], "nice": false, "zero": false}, "axis": null},
                      "y": {"datum": 60, "type": "quantitative", "scale": {"domain": [-135.6, 233.3], "nice": false, "zero": false}, "axis": null},
                      "text": {"value": "Flufenamic acid (30 μM)"}}}
      ]}
    ],
    "resolve": {"scale": {"y": "independent"}}
  },
  {
    "width": 214, "height": 166,
    "layer": [
      {"data": {"values": [{}]}, "mark": {"type": "rule", "color": "black", "strokeWidth": 1},
       "encoding": {"x": {"datum": -99.7, "type": "quantitative", "scale": {"domain": [-103.4, 46.1], "nice": false, "zero": false},
                          "axis": {"orient": "bottom", "offset": -66.2, "values": [-100, -80, -60, -40, -20, 20, 40], "labelExpr": "indexof([-80,-40,40], datum.value) >= 0 ? toString(datum.value) : ''", "labelPadding": 8, "title": null}},
                    "x2": {"datum": 46.1},
                    "y": {"datum": 0, "type": "quantitative", "scale": {"domain": [-106.8, 161.0], "nice": false, "zero": false},
                          "axis": {"orient": "left", "offset": -148, "values": [-100, -50, 50, 100], "labelExpr": "toString(datum.value)", "labelPadding": 5, "title": null}}}},
      {"data": {"values": [{}]}, "mark": {"type": "rule", "color": "black", "strokeWidth": 1},
       "encoding": {"x": {"datum": 0, "type": "quantitative", "scale": {"domain": [-103.4, 46.1], "nice": false, "zero": false},
                          "axis": {"orient": "bottom", "offset": -66.2, "values": [-100, -80, -60, -40, -20, 20, 40], "labelExpr": "indexof([-80,-40,40], datum.value) >= 0 ? toString(datum.value) : ''", "labelPadding": 8, "title": null}},
                    "y": {"datum": -106.8, "type": "quantitative", "scale": {"domain": [-106.8, 161.0], "nice": false, "zero": false},
                          "axis": {"orient": "left", "offset": -148, "values": [-100, -50, 50, 100], "labelExpr": "toString(datum.value)", "labelPadding": 5, "title": null}},
                    "y2": {"datum": 113.7}}},
      {"data": {"name": "iv3c"}, "mark": {"type": "line", "color": "black", "strokeWidth": 2},
       "encoding": {"x": {"field": "v", "type": "quantitative", "scale": {"domain": [-103.4, 46.1], "nice": false, "zero": false},
                          "axis": {"orient": "bottom", "offset": -66.2, "values": [-100, -80, -60, -40, -20, 20, 40], "labelExpr": "indexof([-80,-40,40], datum.value) >= 0 ? toString(datum.value) : ''", "labelPadding": 8, "title": null}},
                    "y": {"field": "i", "type": "quantitative", "scale": {"domain": [-106.8, 161.0], "nice": false, "zero": false},
                          "axis": {"orient": "left", "offset": -148, "values": [-100, -50, 50, 100], "labelExpr": "toString(datum.value)", "labelPadding": 5, "title": null}}}},
      {"data": {"name": "iv3d"}, "mark": {"type": "line", "color": "#ff0000", "strokeWidth": 2},
       "encoding": {"x": {"field": "v", "type": "quantitative", "scale": {"domain": [-103.4, 46.1], "nice": false, "zero": false},
                          "axis": {"orient": "bottom", "offset": -66.2, "values": [-100, -80, -60, -40, -20, 20, 40], "labelExpr": "indexof([-80,-40,40], datum.value) >= 0 ? toString(datum.value) : ''", "labelPadding": 8, "title": null}},
                    "y": {"field": "i", "type": "quantitative", "scale": {"domain": [-106.8, 161.0], "nice": false, "zero": false},
                          "axis": {"orient": "left", "offset": -148, "values": [-100, -50, 50, 100], "labelExpr": "toString(datum.value)", "labelPadding": 5, "title": null}}}},
      {"data": {"values": [{}]}, "mark": {"type": "text", "align": "left", "baseline": "middle", "fontSize": 13.5, "color": "black"},
       "encoding": {"x": {"datum": -104, "type": "quantitative", "scale": {"domain": [-103.4, 46.1], "nice": false, "zero": false},
                          "axis": {"orient": "bottom", "offset": -66.2, "values": [-100, -80, -60, -40, -20, 20, 40], "labelExpr": "indexof([-80,-40,40], datum.value) >= 0 ? toString(datum.value) : ''", "labelPadding": 8, "title": null}},
                    "y": {"datum": 133.5, "type": "quantitative", "scale": {"domain": [-106.8, 161.0], "nice": false, "zero": false},
                          "axis": {"orient": "left", "offset": -148, "values": [-100, -50, 50, 100], "labelExpr": "toString(datum.value)", "labelPadding": 5, "title": null}},
                    "text": {"value": "0.1 mM [Ca²⁺]ₒ"}}}
    ]
  }
]
}
